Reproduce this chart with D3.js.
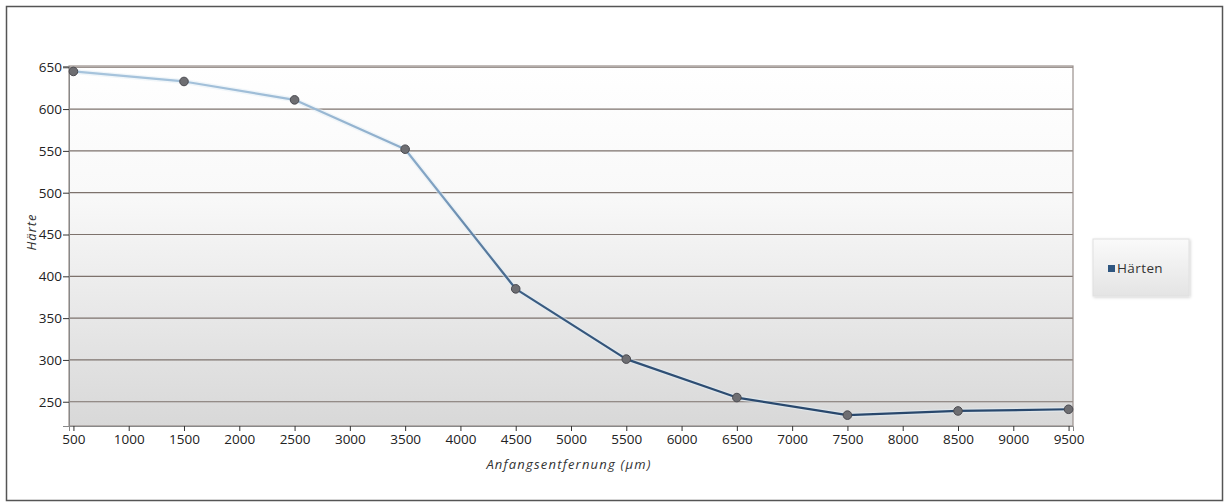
<!DOCTYPE html>
<html><head><meta charset="utf-8">
<script src="https://cdn.jsdelivr.net/npm/d3@7"></script>
<style>
html,body{margin:0;padding:0;background:#fff;}
svg{display:block;}
text{font-family:"Open Sans","Noto Sans",sans-serif;}
</style></head>
<body>
<svg id="chart" width="1224" height="504"></svg>
<script>
const distances = [500,1500,2500,3500,4500,5500,6500,7500,8500,9500];
const haerte = [645,633,611,552,385,301,255,234,239,241];
const xTicks = [500,1000,1500,2000,2500,3000,3500,4000,4500,5000,5500,6000,6500,7000,7500,8000,8500,9000,9500];
const yTicks = [250,300,350,400,450,500,550,600,650];
const seriesName = "Härten";
const xTitle = "Anfangsentfernung (µm)";
const yTitle = "Härte";

const svg = d3.select("#chart");
const defs = svg.append("defs");

const m = {left:69, right:1073, top:66, bottom:426};
const x = d3.scaleLinear().domain([460,9540]).range([m.left,m.right]);
const y = d3.scaleLinear().domain([221,651.5]).range([m.bottom,m.top]);

// outer border
svg.append("rect").attr("x",6.5).attr("y",6.5).attr("width",1216).attr("height",494)
  .attr("fill","#fff").attr("stroke","#555").attr("stroke-width",1.5);

// plot background gradient
const bg = defs.append("linearGradient").attr("id","bg").attr("x1",0).attr("y1",0).attr("x2",0).attr("y2",1);
bg.append("stop").attr("offset","0%").attr("stop-color","#ffffff");
bg.append("stop").attr("offset","35%").attr("stop-color","#f9f9f9");
bg.append("stop").attr("offset","100%").attr("stop-color","#d8d8d8");
svg.append("rect").attr("x",m.left).attr("y",m.top).attr("width",m.right-m.left).attr("height",m.bottom-m.top)
  .attr("fill","url(#bg)");

// gridlines
svg.append("g").selectAll("line").data(yTicks).join("line")
  .attr("x1",m.left).attr("x2",m.right)
  .attr("y1",d=>y(d)).attr("y2",d=>y(d))
  .attr("stroke","#7d726c").attr("stroke-width",1.2);

// plot border
svg.append("rect").attr("x",m.left).attr("y",m.top).attr("width",m.right-m.left).attr("height",m.bottom-m.top)
  .attr("fill","none").attr("stroke","#9a908c").attr("stroke-width",1.2);

// axes
const xAxis = svg.append("g").attr("transform",`translate(0,${m.bottom})`)
  .call(d3.axisBottom(x).tickValues(xTicks).tickFormat(d3.format("d")).tickSize(5).tickPadding(3));
xAxis.select(".domain").attr("stroke","#888");
xAxis.selectAll(".tick line").attr("stroke","#333");
xAxis.selectAll("text").attr("font-size",13.5).attr("fill","#222");

const yAxis = svg.append("g").attr("transform",`translate(${m.left},0)`)
  .call(d3.axisLeft(y).tickValues(yTicks).tickFormat(d3.format("d")).tickSize(6).tickPadding(1));
yAxis.select(".domain").attr("stroke","#888");
yAxis.selectAll(".tick line").attr("stroke","#333");
yAxis.selectAll("text").attr("font-size",13.5).attr("fill","#222");

// axis titles
svg.append("text").attr("x",(m.left+m.right)/2-2).attr("y",469).attr("text-anchor","middle")
  .attr("font-size",13).attr("letter-spacing","1.2px").attr("font-style","italic").attr("fill","#333").text(xTitle);
svg.append("text").attr("transform",`translate(36,${(m.top+m.bottom)/2-14}) rotate(-90)`).attr("text-anchor","middle")
  .attr("font-size",13).attr("letter-spacing","1px").attr("font-style","italic").attr("fill","#333").text(yTitle);

// line gradient
const lg = defs.append("linearGradient").attr("id","lg").attr("gradientUnits","userSpaceOnUse")
  .attr("x1",0).attr("y1",m.top).attr("x2",0).attr("y2",m.bottom);
lg.append("stop").attr("offset","0%").attr("stop-color","#a9c6de");
lg.append("stop").attr("offset","35%").attr("stop-color","#7d9fc0");
lg.append("stop").attr("offset","65%").attr("stop-color","#3a5c82");
lg.append("stop").attr("offset","100%").attr("stop-color","#26456a");

const data = distances.map((d,i)=>({x:d,y:haerte[i]}));
const line = d3.line().x(d=>x(d.x)).y(d=>y(d.y));
svg.append("path").datum(data).attr("d",line).attr("fill","none")
  .attr("stroke","#e2edf6").attr("stroke-width",5).attr("stroke-opacity",0.5);
svg.append("path").datum(data).attr("d",line).attr("fill","none")
  .attr("stroke","url(#lg)").attr("stroke-width",2.2).attr("stroke-linejoin","round");

svg.append("g").selectAll("circle").data(data).join("circle")
  .attr("cx",d=>x(d.x)).attr("cy",d=>y(d.y)).attr("r",4.3)
  .attr("fill","#6e6e72").attr("stroke","#4a4a50").attr("stroke-width",1);

// legend
const lgd = defs.append("linearGradient").attr("id","lgd").attr("x1",0).attr("y1",0).attr("x2",0).attr("y2",1);
lgd.append("stop").attr("offset","0%").attr("stop-color","#fafafa");
lgd.append("stop").attr("offset","100%").attr("stop-color","#e4e4e4");
const sh = defs.append("filter").attr("id","sh").attr("x","-10%").attr("y","-10%").attr("width","130%").attr("height","130%");
sh.append("feDropShadow").attr("dx",1).attr("dy",1).attr("stdDeviation",1.5).attr("flood-color","#000").attr("flood-opacity",0.18);
svg.append("rect").attr("x",1093).attr("y",239).attr("width",96).attr("height",57)
  .attr("fill","url(#lgd)").attr("stroke","#e0e0e0").attr("filter","url(#sh)");
svg.append("rect").attr("x",1108).attr("y",265).attr("width",7).attr("height",7).attr("fill","#2f5680");
svg.append("text").attr("x",1117).attr("y",273).attr("font-size",13.5).attr("letter-spacing","0.4px").attr("fill","#333").text(seriesName);
</script>
</body></html>
